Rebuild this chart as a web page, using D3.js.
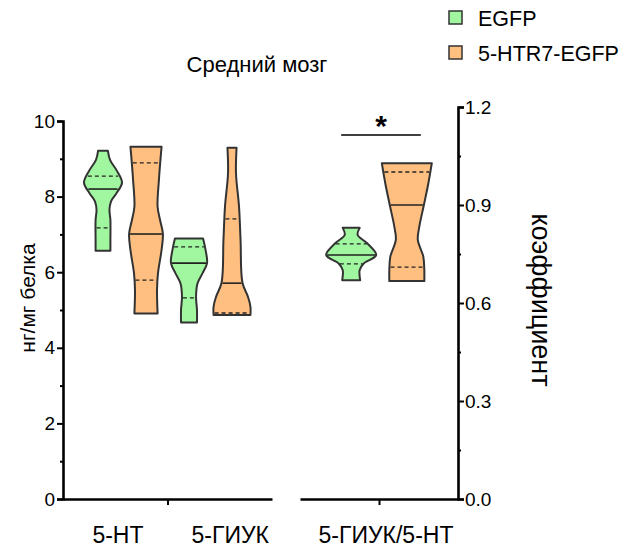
<!DOCTYPE html>
<html>
<head>
<meta charset="utf-8">
<script src="https://cdn.jsdelivr.net/npm/d3@7"></script>
<style>
  body { margin: 0; background: #fff; }
  text { font-family: "Liberation Sans", Arial, sans-serif; fill: #000; }
</style>
</head>
<body>
<div id="chart"></div>
<script>
// categories
var series = ["EGFP", "5-HTR7-EGFP"];
var colors = ["#a0f7a0", "#ffbf80"];
var leftGroups = ["5-HT", "5-ГИУК"];
var rightGroup = "5-ГИУК/5-HT";
var leftTicks = [0, 2, 4, 6, 8, 10];
var rightTicks = [0, 0.3, 0.6, 0.9, 1.2];

// violin profiles: [value, relative density]
var dens_HT_egfp  = [[6.57,.39],[6.85,.39],[7.38,.39],[7.65,.34],[7.87,.42],[8.09,.71],[8.37,1.0],[8.70,.71],[8.97,.37],[9.21,.26]];
var dens_HT_htr7  = [[4.91,.61],[5.53,.58],[5.97,.63],[6.59,.82],[7.01,.89],[7.38,.74],[7.73,.61],[8.44,.68],[8.97,.76],[9.32,.82]];
var dens_GIUK_egfp = [[4.67,.42],[5.0,.42],[5.35,.37],[5.71,.45],[5.97,.71],[6.24,.95],[6.59,.87],[6.89,.74]];
var dens_GIUK_htr7 = [[4.87,.97],[5.09,.97],[5.35,.84],[5.72,.55],[6.85,.45],[7.73,.37],[8.62,.21],[9.29,.24]];
var dens_ratio_egfp = [[0.670,.36],[0.701,.34],[0.721,.5],[0.747,1.0],[0.783,.64],[0.808,.26],[0.830,.34]];
var dens_ratio_htr7 = [[0.667,.70],[0.701,.70],[0.742,.66],[0.793,.44],[0.834,.50],[0.899,.68],[0.966,.86],[1.028,1.0]];

// quartiles: [q1, median, q3]
var quart_HT   = [[7.17, 8.20, 8.54], [5.79, 7.01, 8.89]];
var quart_GIUK = [[5.32, 6.24, 6.67], [4.92, 5.71, 7.41]];
var quart_ratio = [[0.720, 0.747, 0.781], [0.710, 0.900, 1.001]];

var violinsLeft = [
  { key: "5-HT|EGFP", s: 0, dens: dens_HT_egfp, q: quart_HT[0] },
  { key: "5-HT|HTR7", s: 1, dens: dens_HT_htr7, q: quart_HT[1] },
  { key: "5-ГИУК|EGFP", s: 0, dens: dens_GIUK_egfp, q: quart_GIUK[0] },
  { key: "5-ГИУК|HTR7", s: 1, dens: dens_GIUK_htr7, q: quart_GIUK[1] }
];
var violinsRight = [
  { key: "R|EGFP", s: 0, dens: dens_ratio_egfp, q: quart_ratio[0] },
  { key: "R|HTR7", s: 1, dens: dens_ratio_htr7, q: quart_ratio[1] }
];

var width = 634, height = 550;
var svg = d3.select("#chart").append("svg")
  .attr("width", width).attr("height", height);

var yL = d3.scaleLinear().domain([0, 10]).range([499, 121]);
var yR = d3.scaleLinear().domain([0, 1.2]).range([499, 107]);
var xL = d3.scalePoint().domain(violinsLeft.map(function(d){ return d.key; })).range([63, 272]).padding(0.93);
var xR = d3.scalePoint().domain(violinsRight.map(function(d){ return d.key; })).range([300, 458]).padding(0.92);
var wL = d3.scaleLinear().domain([0, 1]).range([0, 19]);
var wR = d3.scaleLinear().domain([0, 1]).range([0, 25]);

function widthAt(dens, v) {
  for (var i = 0; i < dens.length - 1; i++) {
    if (v >= dens[i][0] && v <= dens[i+1][0]) {
      var t = (v - dens[i][0]) / (dens[i+1][0] - dens[i][0]);
      return dens[i][1] + t * (dens[i+1][1] - dens[i][1]);
    }
  }
  return v < dens[0][0] ? dens[0][1] : dens[dens.length-1][1];
}

function drawViolins(list, x, y, w) {
  var g = svg.append("g");
  list.forEach(function(d) {
    var cx = x(d.key);
    var area = d3.area()
      .curve(d3.curveCatmullRom.alpha(0.5))
      .y(function(p){ return y(p[0]); })
      .x0(function(p){ return cx - w(p[1]); })
      .x1(function(p){ return cx + w(p[1]); });
    g.append("path")
      .attr("d", area(d.dens))
      .attr("fill", colors[d.s])
      .attr("stroke", "#333")
      .attr("stroke-width", 2)
      .attr("stroke-linejoin", "round");
    d.q.forEach(function(v, i) {
      var hw = w(widthAt(d.dens, v)) - 1;
      g.append("line")
        .attr("x1", cx - hw).attr("x2", cx + hw)
        .attr("y1", y(v)).attr("y2", y(v))
        .attr("stroke", "#222")
        .attr("stroke-width", i === 1 ? 1.6 : 1.3)
        .attr("stroke-dasharray", i === 1 ? null : "4,3");
    });
  });
}

drawViolins(violinsLeft, xL, yL, wL);
drawViolins(violinsRight, xR, yR, wR);

// left y axis
var axL = svg.append("g").attr("transform", "translate(63,0)")
  .call(d3.axisLeft(yL).tickValues(leftTicks).tickSize(6).tickFormat(d3.format("d")));
svg.append("g").attr("transform", "translate(63,0)")
  .call(d3.axisLeft(yL).tickValues(d3.range(1, 10, 2)).tickSize(3).tickFormat(""))
  .select(".domain").remove();

// right y axis
var axR = svg.append("g").attr("transform", "translate(458,0)")
  .call(d3.axisRight(yR).tickValues(rightTicks).tickSize(6).tickFormat(d3.format(".1f")));
svg.append("g").attr("transform", "translate(458,0)")
  .call(d3.axisRight(yR).tickValues([0.15, 0.45, 0.75, 1.05]).tickSize(3).tickFormat(""))
  .select(".domain").remove();

// bottom axes
var bxL = d3.scaleLinear().domain([0, 1]).range([63, 272]);
svg.append("g").attr("transform", "translate(0,499)")
  .call(d3.axisBottom(bxL).tickValues([0.5]).tickSize(6).tickSizeOuter(0).tickFormat(""));
var bxR = d3.scaleLinear().domain([0, 1]).range([300, 458]);
svg.append("g").attr("transform", "translate(0,499)")
  .call(d3.axisBottom(bxR).tickValues([0.5]).tickSize(6).tickSizeOuter(0).tickFormat(""));

svg.selectAll(".domain").attr("stroke", "#000").attr("stroke-width", 2.6);
svg.selectAll(".tick line").attr("stroke", "#000").attr("stroke-width", 2);
svg.selectAll(".tick text").style("font-size", "19px").style("font-family", "'Liberation Sans', Arial, sans-serif").attr("fill", "#000");
axL.selectAll(".tick text").attr("x", -8);
axR.selectAll(".tick text").attr("x", 7);

// category labels
svg.append("text").attr("x", bxL(0.5) - 24).attr("y", 543).attr("text-anchor", "end")
  .style("font-size", "23px").text(leftGroups[0]);
svg.append("text").attr("x", bxL(0.5) + 24).attr("y", 543).attr("text-anchor", "start")
  .style("font-size", "23px").text(leftGroups[1]);
svg.append("text").attr("x", bxR(0.5) + 7).attr("y", 543).attr("text-anchor", "middle")
  .style("font-size", "23px").text(rightGroup);

// axis titles
svg.append("text").attr("transform", "translate(35,298) rotate(-90)")
  .attr("text-anchor", "middle").style("font-size", "21px").text("нг/мг белка");
svg.append("text").attr("transform", "translate(532,300) rotate(90)")
  .attr("text-anchor", "middle").style("font-size", "27px").text("коэффициент");

// title
svg.append("text").attr("x", 257).attr("y", 72).attr("text-anchor", "middle")
  .style("font-size", "22px").text("Средний мозг");

// significance
svg.append("line").attr("x1", xR(violinsRight[0].key) - 10).attr("x2", xR(violinsRight[1].key) + 14)
  .attr("y1", 135).attr("y2", 135).attr("stroke", "#000").attr("stroke-width", 1.5);
svg.append("text").attr("x", (xR(violinsRight[0].key) + xR(violinsRight[1].key)) / 2 + 2).attr("y", 136)
  .attr("text-anchor", "middle").style("font-size", "30px").style("font-weight", "bold").text("*");

// legend
var leg = svg.append("g").attr("transform", "translate(449,11)");
series.forEach(function(s, i) {
  leg.append("rect").attr("x", 0).attr("y", i * 35).attr("width", 13).attr("height", 13)
    .attr("fill", colors[i]).attr("stroke", "#333").attr("stroke-width", 1.5);
  leg.append("text").attr("x", 29).attr("y", i * 35 + 15).style("font-size", "21.5px").text(s);
});
</script>
</body>
</html>
